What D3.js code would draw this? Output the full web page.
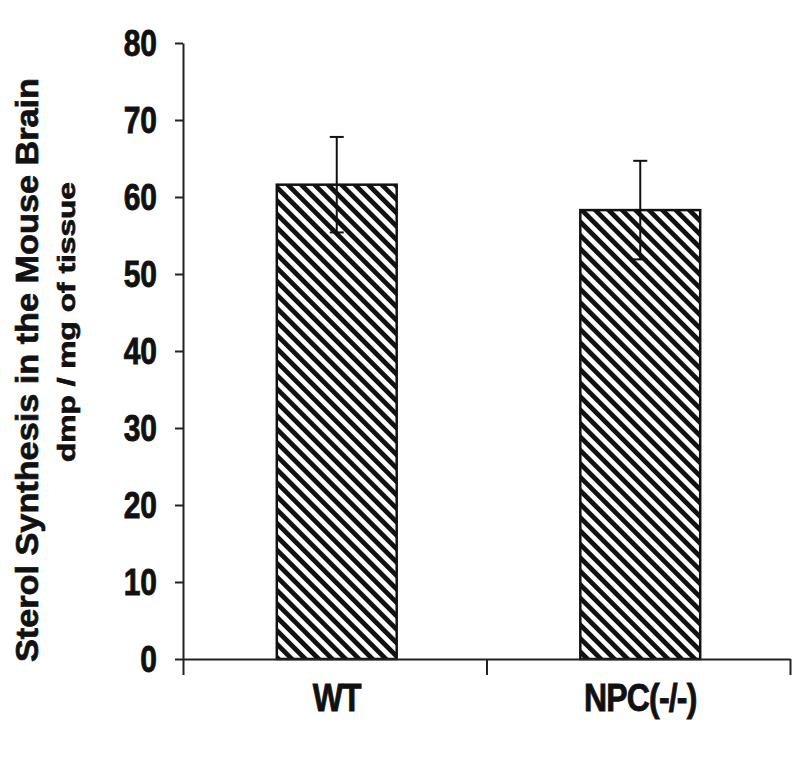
<!DOCTYPE html>
<html>
<head>
<meta charset="utf-8">
<script src="https://cdn.jsdelivr.net/npm/d3@7"></script>
<style>
  body { margin: 0; background: #fff; }
  text { font-family: "Liberation Sans", Arial, sans-serif; font-weight: bold; fill: #111; stroke: #111; stroke-width: 0.7px; }
</style>
</head>
<body>
<div id="chart"></div>
<script>
const categories = ["WT", "NPC(-/-)"];
const means = [61.6, 58.3];
const errors = [6.2, 6.4];
const yTicks = [0, 10, 20, 30, 40, 50, 60, 70, 80];

const margin = { top: 43, right: 10, bottom: 103, left: 183 };
const width = 800 - margin.left - margin.right;
const height = 762 - margin.top - margin.bottom;

const root = d3.select("#chart").append("svg")
    .attr("width", 800)
    .attr("height", 762);

const defs = root.append("defs");
const pat = defs.append("pattern")
    .attr("id", "hatch")
    .attr("patternUnits", "userSpaceOnUse")
    .attr("width", 9.5)
    .attr("height", 9.5)
    .attr("patternTransform", "rotate(-45)");
pat.append("rect").attr("width", 9.5).attr("height", 9.5).attr("fill", "#fff");
pat.append("rect").attr("width", 4.8).attr("height", 9.5).attr("fill", "#111");

const svg = root.append("g")
    .attr("transform", `translate(${margin.left},${margin.top})`);

const x = d3.scaleBand()
    .domain(categories)
    .range([0, 607]);

const y = d3.scaleLinear()
    .domain([0, 80])
    .range([height, 0]);

const barW = x.bandwidth() * 0.395;

// bars
svg.selectAll("rect.bar")
  .data(categories)
  .enter().append("rect")
    .attr("class", "bar")
    .attr("x", d => x(d) + x.bandwidth() / 2 - barW / 2 + 2)
    .attr("y", (d, i) => y(means[i]))
    .attr("width", barW)
    .attr("height", (d, i) => y(0) - y(means[i]))
    .attr("fill", "url(#hatch)")
    .attr("stroke", "#111")
    .attr("stroke-width", 2.5);

// error bars
const eb = svg.selectAll("g.err")
  .data(categories)
  .enter().append("g")
    .attr("class", "err")
    .attr("transform", d => `translate(${x(d) + x.bandwidth() / 2 + 2},0)`);
eb.append("line")
    .attr("y1", (d, i) => y(means[i] - errors[i]))
    .attr("y2", (d, i) => y(means[i] + errors[i]))
    .attr("stroke", "#111").attr("stroke-width", 2);
eb.append("line")
    .attr("x1", -7).attr("x2", 7)
    .attr("y1", (d, i) => y(means[i] + errors[i]))
    .attr("y2", (d, i) => y(means[i] + errors[i]))
    .attr("stroke", "#111").attr("stroke-width", 2);
eb.append("line")
    .attr("x1", -7).attr("x2", 7)
    .attr("y1", (d, i) => y(means[i] - errors[i]))
    .attr("y2", (d, i) => y(means[i] - errors[i]))
    .attr("stroke", "#111").attr("stroke-width", 2);

// y axis
const yAxis = svg.append("g")
    .call(d3.axisLeft(y).tickValues(yTicks).tickSize(8).tickSizeOuter(0).tickPadding(18));
yAxis.selectAll("path, line").attr("stroke", "#222").attr("stroke-width", 2);
yAxis.selectAll("text")
    .attr("font-size", 30)
    .attr("transform", "scale(1,1.25)");

// x axis, ticks at category boundaries
const xb = d3.scaleLinear().domain([0, categories.length]).range([0, 607]);
const xAxis = svg.append("g")
    .attr("transform", `translate(0,${height})`)
    .call(d3.axisBottom(xb).ticks(categories.length).tickSize(16).tickSizeOuter(0).tickFormat(""));
xAxis.selectAll("path, line").attr("stroke", "#222").attr("stroke-width", 2);

// category labels
svg.selectAll("g.cat")
  .data(categories)
  .enter().append("g")
    .attr("class", "cat")
    .attr("transform", d => `translate(${x(d) + x.bandwidth() / 2 + 2},${height + 52}) scale(1,1.2)`)
  .append("text")
    .attr("text-anchor", "middle")
    .attr("font-size", 32)
    .attr("letter-spacing", -0.8)
    .text(d => d);

// y axis titles
root.append("text")
    .attr("transform", "translate(38,370) rotate(-90)")
    .attr("text-anchor", "middle")
    .attr("font-size", 31)
    .attr("textLength", 584)
    .attr("lengthAdjust", "spacingAndGlyphs")
    .text("Sterol Synthesis in the Mouse Brain");

root.append("text")
    .attr("transform", "translate(75,322) rotate(-90)")
    .attr("text-anchor", "middle")
    .attr("font-size", 24)
    .attr("textLength", 280)
    .attr("lengthAdjust", "spacingAndGlyphs")
    .text("dmp / mg of tissue");
</script>
</body>
</html>
